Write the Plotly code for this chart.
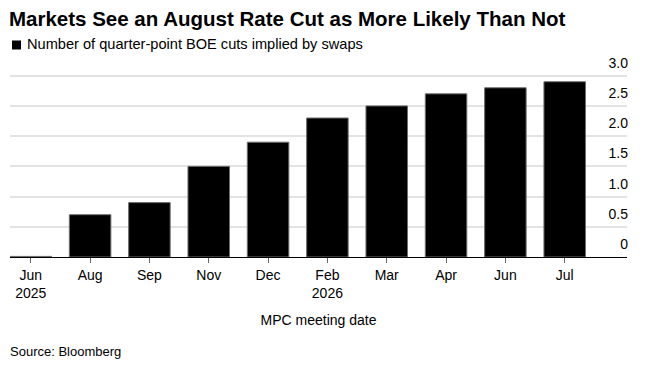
import plotly.graph_objects as go

categories = ["Jun<br>2025", "Aug", "Sep", "Nov", "Dec", "Feb<br>2026", "Mar", "Apr", "Jun", "Jul"]
cuts = [0.01, 0.70, 0.90, 1.50, 1.90, 2.30, 2.50, 2.70, 2.80, 2.90]
y_tickvals = [0, 0.5, 1.0, 1.5, 2.0, 2.5, 3.0]
y_ticktext = ["0", "0.5", "1.0", "1.5", "2.0", "2.5", "3.0"]
series_name = "Number of quarter-point BOE cuts implied by swaps"

FONT = "Liberation Sans, Arial, Helvetica, sans-serif"
W, H = 646, 367
ML, MR, MT, MB = 10, 19, 52, 110
PW = W - ML - MR
PH = H - MT - MB
# pixel position of the 3.0 gridline in the reference -> keeps 60.4 px per unit
Y_TOP = 3.0 * PH / (H - MB - 75.7)


def px_y(y):
    return (H - MB - y) / PH


def px_x(x):
    return (x - ML) / PW


fig = go.Figure()
fig.add_trace(go.Bar(
    x=categories, y=cuts,
    name=series_name,
    marker=dict(color="#000000", line=dict(color="#6e6e6e", width=1)),
    showlegend=False,
))

fig.update_layout(
    width=W, height=H,
    margin=dict(l=ML, r=MR, t=MT, b=MB, autoexpand=False),
    paper_bgcolor="white", plot_bgcolor="white",
    font=dict(family=FONT, size=14, color="#000000"),
    bargap=0.3,
    title=dict(
        text="<b>Markets See an August Rate Cut as More Likely Than Not</b>",
        font=dict(family=FONT, size=20.5, color="#000000"),
        xref="container", yref="container",
        x=9/W, xanchor="left",
        y=1 - 19/H, yanchor="middle",
    ),
    xaxis=dict(
        type="category",
        range=[-0.35, 10.05],
        showgrid=False,
        showline=True, linecolor="#000000", linewidth=1,
        ticks="outside", ticklen=5, tickcolor="#666666", tickwidth=1,
        tickfont=dict(family=FONT, size=14, color="#000000"),
        title=dict(text="MPC meeting date", font=dict(family=FONT, size=14, color="#000000"), standoff=15),
        automargin=False,
        fixedrange=True,
    ),
    yaxis=dict(
        side="right",
        range=[0, Y_TOP],
        tickvals=y_tickvals, ticktext=y_ticktext,
        ticklabelposition="inside top",
        ticklabelshift=-3,
        ticklabelstandoff=-4,
        showgrid=True, gridcolor="#e3e3e3", gridwidth=1.5,
        zeroline=False, showline=False, ticks="",
        tickfont=dict(family=FONT, size=14, color="#000000"),
        automargin=False,
        fixedrange=True,
    ),
    shapes=[dict(
        type="rect", xref="paper", yref="paper",
        x0=px_x(12), x1=px_x(21), y0=px_y(49.5), y1=px_y(40.5),
        fillcolor="#000000", line=dict(width=0),
    )],
    annotations=[
        dict(
            text=series_name,
            xref="paper", yref="paper",
            x=px_x(25), xanchor="left",
            y=px_y(44.5), yanchor="middle",
            showarrow=False,
            font=dict(family=FONT, size=14.6, color="#000000"),
        ),
        dict(
            text="Source: Bloomberg",
            xref="paper", yref="paper",
            x=px_x(8), xanchor="left",
            y=px_y(351), yanchor="middle",
            showarrow=False,
            font=dict(family=FONT, size=13, color="#000000"),
        ),
    ],
)

fig.write_html(
    "out.html",
    config={"displayModeBar": False},
    post_script="document.body.style.margin='0px';",
)
